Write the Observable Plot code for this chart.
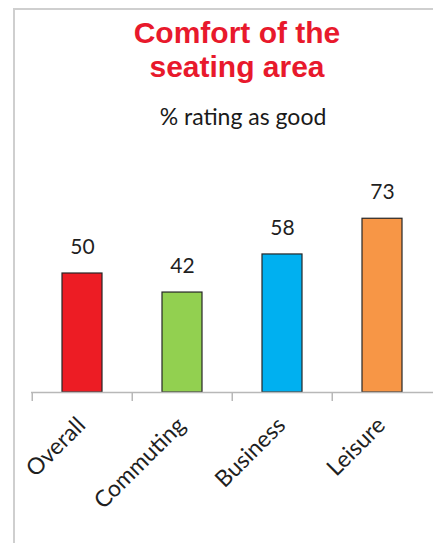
<!DOCTYPE html>
<html>
<head>
<meta charset="utf-8">
<script src="https://cdn.jsdelivr.net/npm/d3@7"></script>
<script src="https://cdn.jsdelivr.net/npm/@observablehq/plot@0.6"></script>
<style>
  html, body { margin: 0; padding: 0; background: #fff; }
  #wrap { position: relative; width: 433px; height: 543px; overflow: hidden; }
  #frame { position: absolute; left: 13px; top: 8px; width: 440px; height: 560px;
           border-left: 2px solid #cfcfcf; border-top: 2px solid #cfcfcf; }
  #title { position: absolute; left: 40px; width: 394px; top: 16px; text-align: center;
           font-family: "Liberation Sans", Arial, sans-serif; font-weight: bold;
           font-size: 30px; line-height: 34px; color: #e8192c; }
  #subtitle { position: absolute; left: 40px; width: 406px; top: 102px; text-align: center;
              font-family: Lato, "Open Sans", sans-serif; font-size: 23px; color: #1a1a1a; }
  #chart { position: absolute; left: 0; top: 0; }
</style>
</head>
<body>
<div id="wrap">
  <div id="frame"></div>
  <div id="chart"></div>
  <div id="title">Comfort of the<br>seating area</div>
  <div id="subtitle">% rating as good</div>
</div>
<script>
const categories = ["Overall", "Commuting", "Business", "Leisure"];
const values = [50, 42, 58, 73];
const colors = ["#ed1c24", "#92d050", "#00b0f0", "#f79646"];

const data = categories.map((c, i) => ({category: c, value: values[i]}));

const W = 433, H = 543;
const mLeft = 31, mRight = 0, mTop = 201.6, mBottom = 151;
const step = (W - mLeft - mRight) / categories.length;

const chart = Plot.plot({
  width: W,
  height: H,
  marginLeft: mLeft,
  marginRight: mRight,
  marginTop: mTop,
  marginBottom: mBottom,
  style: {fontFamily: "Lato, 'Open Sans', sans-serif", background: "transparent", overflow: "visible"},
  x: {domain: categories, paddingInner: 0.6, paddingOuter: 0.3},
  y: {domain: [0, 80], axis: null},
  color: {domain: categories, range: colors},
  marks: [
    Plot.barY(data, {x: "category", y: "value", fill: "category", stroke: "#262626", strokeWidth: 1.2}),
    Plot.ruleY([0], {stroke: "#b8b8b8", strokeWidth: 1.5}),
    Plot.ruleX(categories, {x: d => d, y1: 0, y2: -3.8, dx: -step / 2, stroke: "#b8b8b8", strokeWidth: 1.5}),
    Plot.text(data, {x: "category", y: "value", text: d => String(d.value), dy: -26,
                     fontSize: 21, fill: "#1f1f1f"}),
    Plot.axisX({tickSize: 0, tickRotate: -45, tickPadding: 29, dx: -1, fontSize: 23, fill: "#1f1f1f", label: null})
  ]
});
document.getElementById("chart").appendChild(chart);
</script>
</body>
</html>
